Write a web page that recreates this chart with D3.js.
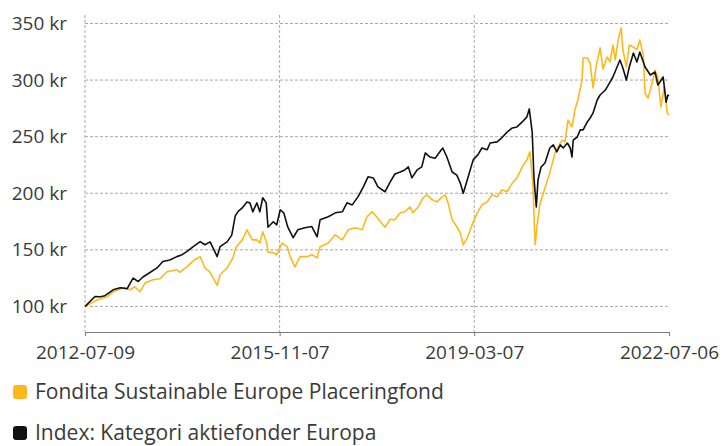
<!DOCTYPE html>
<html>
<head>
<meta charset="utf-8">
<script src="https://cdn.jsdelivr.net/npm/d3@7"></script>
<style>
  body { margin: 0; background: #fff; }
  text { font-family: "Open Sans", sans-serif; fill: #3a3a3a; }
</style>
</head>
<body>
<div id="chart"></div>
<script>
// Series names for the legend
const seriesNames = ['Fondita Sustainable Europe Placeringfond', 'Index: Kategori aktiefonder Europa'];

// Tick labels
const yTicks = [100, 150, 200, 250, 300, 350];
const xTickLabels = ['2012-07-09', '2015-11-07', '2019-03-07', '2022-07-06'];

// Fund (orange) - decimal years and values in kr
const fundYears = [2012.52, 2012.72, 2012.90, 2013.00, 2013.17, 2013.29, 2013.37, 2013.46, 2013.55, 2013.68,
  2013.80, 2013.92, 2014.09, 2014.14, 2014.26, 2014.40, 2014.49, 2014.57, 2014.66, 2014.78,
  2014.83, 2014.95, 2015.05, 2015.10, 2015.21, 2015.29, 2015.38, 2015.46, 2015.51, 2015.56,
  2015.63, 2015.65, 2015.74, 2015.80, 2015.89, 2015.98, 2016.03, 2016.11, 2016.20, 2016.32,
  2016.40, 2016.49, 2016.54, 2016.68, 2016.80, 2016.92, 2017.02, 2017.14, 2017.26, 2017.34,
  2017.43, 2017.52, 2017.65, 2017.74, 2017.82, 2017.91, 2017.99, 2018.08, 2018.13, 2018.22,
  2018.30, 2018.37, 2018.46, 2018.54, 2018.63, 2018.68, 2018.73, 2018.80, 2018.88, 2018.94,
  2018.99, 2019.06, 2019.14, 2019.23, 2019.31, 2019.40, 2019.48, 2019.57, 2019.65, 2019.74,
  2019.83, 2019.91, 2020.00, 2020.08, 2020.13, 2020.18, 2020.22, 2020.25, 2020.30, 2020.39,
  2020.47, 2020.56, 2020.61, 2020.68, 2020.73, 2020.78, 2020.85, 2020.90, 2020.95, 2021.02,
  2021.04, 2021.11, 2021.16, 2021.21, 2021.26, 2021.33, 2021.38, 2021.45, 2021.50, 2021.55,
  2021.59, 2021.64, 2021.69, 2021.72, 2021.78, 2021.83, 2021.90, 2021.96, 2022.01, 2022.07,
  2022.10, 2022.15, 2022.22, 2022.27, 2022.32, 2022.37, 2022.43, 2022.48, 2022.51];
const fundValues = [100, 105.6, 108.6, 113, 116.5, 114.7, 117.4, 113, 121, 123.6,
  124.5, 130.6, 132.4, 130, 135, 141.5, 144, 134, 130, 118.5,
  128, 134, 143, 152, 158.8, 167.7, 158.8, 158.8, 156, 166,
  156, 148, 147.4, 145.7, 156, 152.8, 144, 135, 144, 144,
  145.7, 143, 152.8, 156, 163.3, 158.8, 167.7, 169.5, 167.7, 179.2,
  183.6, 178.3, 170, 177, 176.5, 182.7, 183.6, 188, 182.7, 188,
  196, 198.6, 194.2, 192.4, 196.8, 198.6, 191.5, 176.5, 170.4, 165,
  154.5, 160.6, 172, 182.7, 189.8, 192.4, 198.6, 196.8, 203, 201.3,
  209, 213.6, 223.3, 229.5, 236.6, 210, 154.5, 170, 190, 205,
  218, 235.6, 240.9, 247, 245.4, 264.7, 258.6, 273.7, 282.4, 300,
  319.5, 319.5, 315, 293, 311.6, 328.5, 309.8, 320.4, 316, 331,
  317.8, 335.5, 346, 326.8, 311.6, 331, 329.3, 326.8, 335.5, 322,
  288.5, 284, 297.3, 308.9, 301.8, 276.2, 293.9, 270.9, 269];

// Category index (black) - decimal years and values in kr
const indexYears = [2012.52, 2012.69, 2012.78, 2012.86, 2013.00, 2013.12, 2013.24, 2013.34, 2013.43, 2013.51,
  2013.63, 2013.75, 2013.85, 2013.97, 2014.09, 2014.18, 2014.26, 2014.37, 2014.49, 2014.57,
  2014.66, 2014.78, 2014.83, 2014.95, 2015.03, 2015.09, 2015.14, 2015.21, 2015.29, 2015.34,
  2015.39, 2015.46, 2015.51, 2015.56, 2015.62, 2015.65, 2015.74, 2015.80, 2015.86, 2015.92,
  2015.99, 2016.08, 2016.16, 2016.28, 2016.40, 2016.49, 2016.54, 2016.68, 2016.80, 2016.92,
  2017.00, 2017.09, 2017.19, 2017.28, 2017.36, 2017.45, 2017.53, 2017.65, 2017.74, 2017.82,
  2017.91, 2017.99, 2018.05, 2018.11, 2018.20, 2018.28, 2018.34, 2018.42, 2018.51, 2018.59,
  2018.64, 2018.71, 2018.80, 2018.88, 2018.94, 2018.99, 2019.07, 2019.16, 2019.24, 2019.31,
  2019.40, 2019.45, 2019.57, 2019.65, 2019.74, 2019.83, 2019.91, 2020.00, 2020.08, 2020.12,
  2020.17, 2020.20, 2020.24, 2020.27, 2020.32, 2020.39, 2020.47, 2020.53, 2020.59, 2020.65,
  2020.70, 2020.77, 2020.82, 2020.85, 2020.87, 2020.94, 2020.99, 2021.04, 2021.11, 2021.16,
  2021.21, 2021.28, 2021.33, 2021.42, 2021.50, 2021.55, 2021.62, 2021.67, 2021.72, 2021.78,
  2021.83, 2021.90, 2021.96, 2022.01, 2022.10, 2022.19, 2022.27, 2022.32, 2022.41, 2022.46,
  2022.49, 2022.51];
const indexValues = [100, 108.8, 108.5, 109.5, 114.7, 116.5, 115.7, 125, 122, 126,
  130, 134, 139.7, 141, 144, 145.7, 148.4, 152.8, 157.2, 154.5,
  157, 144, 152.8, 157, 163, 180, 184, 187, 192.3, 191.5,
  183.6, 191.5, 183.6, 196, 191.5, 170, 174.8, 172, 185.4, 182.7,
  170, 160.7, 167.7, 169.5, 170.6, 161.5, 176.5, 179.2, 182.7, 183.6,
  191.5, 189.7, 197, 205.6, 214.5, 213.5, 205.6, 201.3, 210, 217,
  218.8, 220.6, 223.3, 213.6, 220.6, 223.3, 235.6, 232, 231, 236.6,
  240, 232, 218.8, 216, 209, 200, 213.6, 229.5, 233.9, 240,
  238.4, 244.4, 245.4, 249, 254, 257.7, 258.6, 263, 267.5, 274.5,
  254, 213.6, 188, 212, 223, 226.9, 240, 242.8, 236.6, 242.8,
  240, 244.4, 240, 232, 247, 249.7, 256, 256, 263, 266.5,
  271, 282.4, 286.8, 291.2, 298.2, 302.7, 311.6, 317.7, 310.7, 300,
  311.6, 323.9, 316, 324.8, 311.6, 304.5, 307.1, 295.6, 302.7, 280.5,
  286.8, 286];

const colors = ['#ffb81c', '#111111'];

// decimal year -> Date
function toDate(y) {
  const yr = Math.floor(y);
  const start = Date.UTC(yr, 0, 1), end = Date.UTC(yr + 1, 0, 1);
  return new Date(start + (y - yr) * (end - start));
}

const fund = fundYears.map((y, i) => ({ date: toDate(y), value: fundValues[i] }));
const index = indexYears.map((y, i) => ({ date: toDate(y), value: indexValues[i] }));

// Dimensions
const svgWidth = 725, svgHeight = 446;
const plot = { left: 85, right: 669, top: 15, bottom: 332 };

const svg = d3.select('#chart')
  .append('svg')
  .attr('width', svgWidth)
  .attr('height', svgHeight);

// Scales
const x = d3.scaleTime()
  .domain([new Date(xTickLabels[0]), new Date(xTickLabels[xTickLabels.length - 1])])
  .range([plot.left, plot.right]);
const y = d3.scaleLinear()
  .domain([77.4, 357.5])
  .range([plot.bottom, plot.top]);

// Horizontal grid
svg.append('g')
  .selectAll('line')
  .data(yTicks)
  .join('line')
  .attr('x1', plot.left).attr('x2', plot.right)
  .attr('y1', d => y(d)).attr('y2', d => y(d))
  .attr('stroke', '#a8a8a8')
  .attr('stroke-dasharray', '3,2');

// Vertical grid (not on the last tick)
svg.append('g')
  .selectAll('line')
  .data(xTickLabels.slice(0, -1))
  .join('line')
  .attr('x1', d => x(new Date(d))).attr('x2', d => x(new Date(d)))
  .attr('y1', plot.top).attr('y2', plot.bottom)
  .attr('stroke', '#a8a8a8')
  .attr('stroke-dasharray', '3,2');

// Y labels
svg.append('g')
  .selectAll('text')
  .data(yTicks)
  .join('text')
  .attr('x', 67)
  .attr('y', d => y(d))
  .attr('dy', '0.35em')
  .attr('text-anchor', 'end')
  .style('font-size', '19px')
  .text(d => d + ' kr');

// X axis
const xAxis = svg.append('g')
  .attr('transform', 'translate(0,' + plot.bottom + ')')
  .call(d3.axisBottom(x)
    .tickValues(xTickLabels.map(d => new Date(d)))
    .tickFormat((d, i) => xTickLabels[i])
    .tickSize(4)
    .tickSizeOuter(0)
    .tickPadding(10));
xAxis.select('.domain').attr('stroke', '#7a7a7a');
xAxis.selectAll('.tick line').attr('stroke', '#7a7a7a');
xAxis.selectAll('.tick text')
  .style('font-size', '19px')
  .style('font-family', '"Open Sans", sans-serif')
  .attr('fill', '#3a3a3a');

// Lines
const line = d3.line()
  .x(d => x(d.date))
  .y(d => y(d.value));

svg.append('path')
  .datum(fund)
  .attr('d', line)
  .attr('fill', 'none')
  .attr('stroke', colors[0])
  .attr('stroke-width', 1.6)
  .attr('stroke-linejoin', 'round');

svg.append('path')
  .datum(index)
  .attr('d', line)
  .attr('fill', 'none')
  .attr('stroke', colors[1])
  .attr('stroke-width', 1.6)
  .attr('stroke-linejoin', 'round');

// Legend
const legend = svg.append('g')
  .selectAll('g')
  .data(seriesNames)
  .join('g')
  .attr('transform', (d, i) => 'translate(13,' + (399 + i * 41) + ')');
legend.append('rect')
  .attr('x', 0).attr('y', -14)
  .attr('width', 14).attr('height', 14)
  .attr('rx', 3)
  .attr('fill', (d, i) => colors[i]);
legend.append('text')
  .attr('x', 22)
  .style('font-size', '21px')
  .text(d => d);
</script>
</body>
</html>
